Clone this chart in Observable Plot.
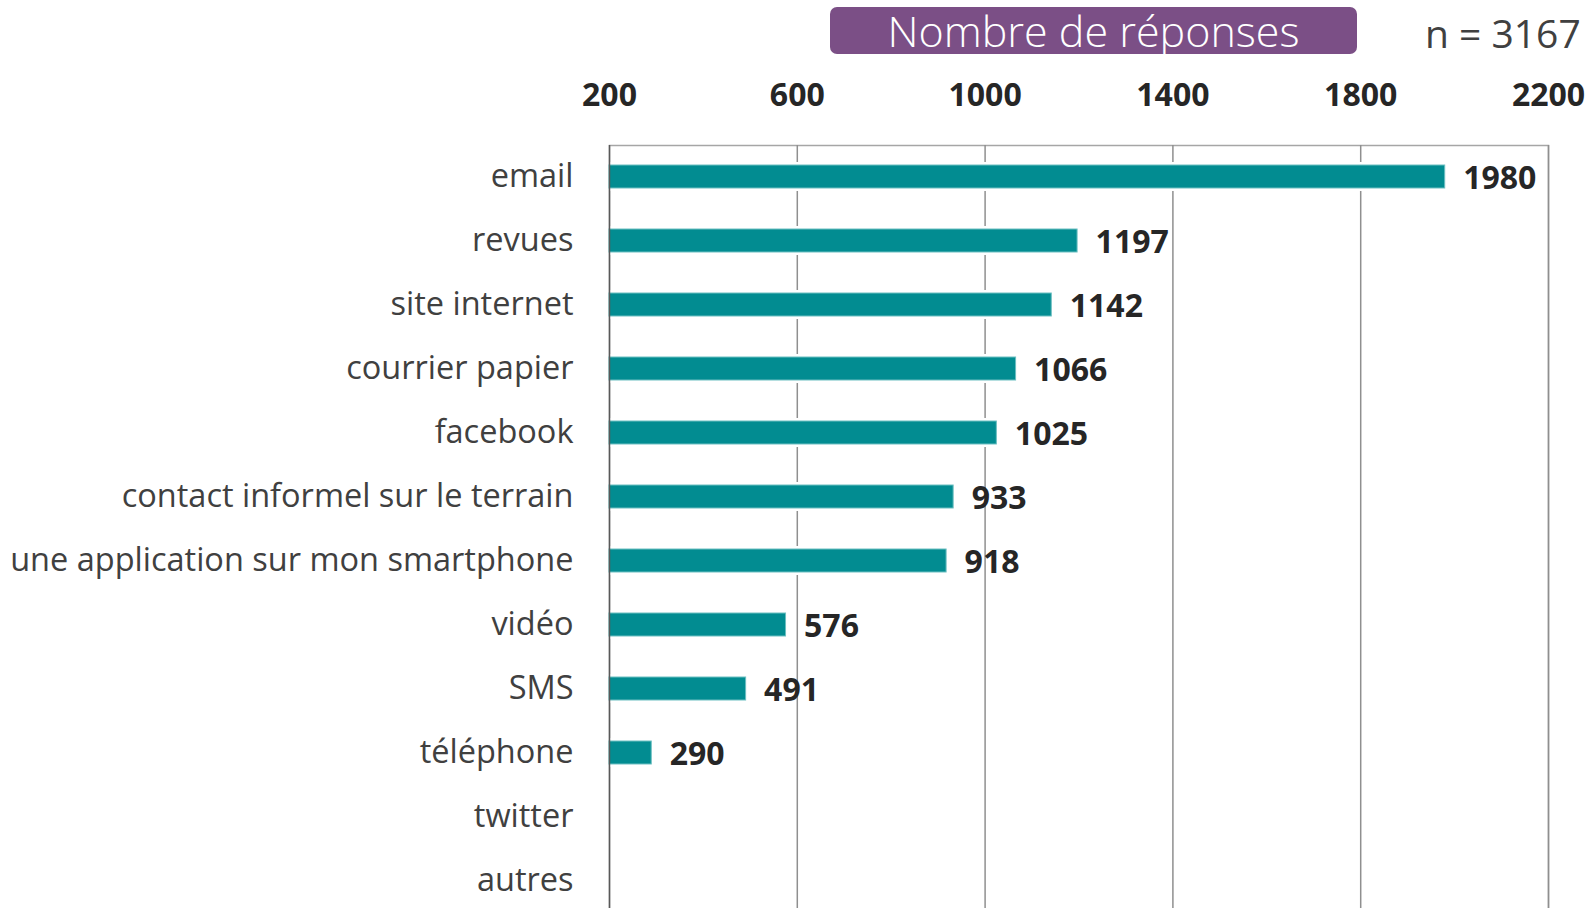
<!DOCTYPE html>
<html>
<head>
<meta charset="utf-8">
<script src="https://cdn.jsdelivr.net/npm/d3@7"></script>
<script src="https://cdn.jsdelivr.net/npm/@observablehq/plot@0.6"></script>
<style>
  html, body { margin: 0; padding: 0; background: #fff; overflow: hidden; }
  #header { position: relative; width: 1596px; height: 60px; font-family: "Open Sans", sans-serif; }
  #title { position: absolute; left: 830px; top: 7px; width: 527px; height: 47px; background: #7b4f86;
           border-radius: 7px; color: #fff; font-size: 43px; line-height: 47px; text-align: center; font-weight: 300; }
  #n { position: absolute; left: 1425px; top: 8px; font-size: 39px; line-height: 50px; color: #404040; }
  #chart svg { display: block; overflow: hidden; }
</style>
</head>
<body>
<div id="header">
  <div id="title">Nombre de réponses</div>
  <div id="n">n = 3167</div>
</div>
<div id="chart"></div>
<script>
const categories = ["email", "revues", "site internet", "courrier papier", "facebook",
  "contact informel sur le terrain", "une application sur mon smartphone", "vidéo",
  "SMS", "téléphone", "twitter", "autres"];
const values = [1980, 1197, 1142, 1066, 1025, 933, 918, 576, 491, 290, null, null];
const xTicks = [200, 600, 1000, 1400, 1800, 2200];

const data = categories.map((c, i) => ({cat: c, value: values[i]}));
const shown = data.filter(d => d.value != null);

const chart = Plot.plot({
  width: 1596,
  height: 848,
  marginTop: 85,
  marginBottom: -5,
  marginLeft: 609,
  marginRight: 48,
  style: {fontFamily: "Open Sans, sans-serif", background: "#fff"},
  x: {domain: [200, 2200], ticks: xTicks},
  y: {domain: categories, paddingInner: 0.64, paddingOuter: 0.32},
  marks: [
    Plot.frame({stroke: "#a6a6a6", strokeWidth: 1.5}),
    Plot.gridX(xTicks.slice(1), {stroke: "#8f8f8f", strokeOpacity: 1, strokeWidth: 1.5}),
    Plot.barX(shown, {x1: 200, x2: "value", y: "cat", fill: "#fff", insetTop: -3, insetBottom: -3}),
    Plot.barX(shown, {x1: 200, x2: "value", y: "cat", fill: "#028c91", stroke: "#6cbfc1", strokeWidth: 1}),
    Plot.ruleX([200], {stroke: "#595959", strokeWidth: 1.5}),
    Plot.axisX(xTicks, {anchor: "top", tickSize: 0, tickPadding: 40, tickFormat: d => String(d),
      fontSize: 32, fontWeight: "bold", fill: "#262626", label: null}),
    Plot.axisY({anchor: "left", tickSize: 0, tickPadding: 36, fontSize: 32.5, fill: "#404040", label: null}),
    Plot.text(shown, {x: "value", y: "cat", text: d => String(d.value), textAnchor: "start", dx: 18, dy: 2,
      fontSize: 32, fontWeight: "bold", fill: "#262626"})
  ]
});
document.getElementById("chart").appendChild(chart);
</script>
</body>
</html>
